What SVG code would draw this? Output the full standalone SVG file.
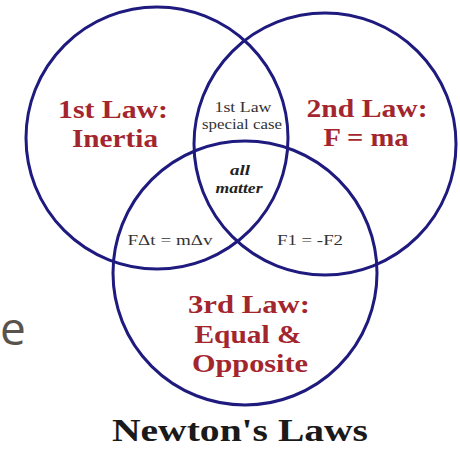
<svg xmlns="http://www.w3.org/2000/svg" width="460" height="451" viewBox="0 0 460 451">
<style>
.c{fill:none;stroke:#1f1a7e;stroke-width:3}
.law{font-family:"Liberation Serif",serif;font-weight:bold;fill:#a3262e;text-anchor:middle;font-size:26px}
.sm{font-family:"Liberation Serif",serif;fill:#333;text-anchor:middle;font-size:15px}
.am{font-family:"Liberation Serif",serif;font-weight:bold;font-style:italic;fill:#222;text-anchor:middle;font-size:15px}
</style>
<rect width="460" height="451" fill="#fff"/>
<text x="0" y="345" font-family="'Open Sans',sans-serif" font-size="46" fill="#5a534d">e</text>
<g id="connectors"></g>
<g id="law1">
<circle class="c" cx="157" cy="138" r="131"/>
<text class="law" x="113" y="118" textLength="110" lengthAdjust="spacingAndGlyphs">1st Law:</text>
<text class="law" x="115" y="147" textLength="86" lengthAdjust="spacingAndGlyphs">Inertia</text>
</g>
<g id="law2">
<circle class="c" cx="325" cy="144" r="131"/>
<text class="law" x="367" y="117" textLength="121" lengthAdjust="spacingAndGlyphs">2nd Law:</text>
<text class="law" x="366" y="146" textLength="85" lengthAdjust="spacingAndGlyphs">F = ma</text>
</g>
<g id="law3">
<circle class="c" cx="245" cy="273" r="132"/>
<text class="law" x="249" y="313" textLength="122" lengthAdjust="spacingAndGlyphs">3rd Law:</text>
<text class="law" x="248" y="343" textLength="107" lengthAdjust="spacingAndGlyphs">Equal &amp;</text>
<text class="law" x="250" y="372" textLength="116" lengthAdjust="spacingAndGlyphs">Opposite</text>
</g>
<g id="special">
<text class="sm" x="243" y="112" textLength="57" lengthAdjust="spacingAndGlyphs">1st Law</text>
<text class="sm" x="242" y="129" textLength="80" lengthAdjust="spacingAndGlyphs">special case</text>
</g>
<g id="all">
<text class="am" x="240" y="175" textLength="20" lengthAdjust="spacingAndGlyphs">all</text>
<text class="am" x="239" y="193" textLength="47" lengthAdjust="spacingAndGlyphs">matter</text>
</g>
<g id="momentum">
<text class="sm" x="170" y="245" textLength="85" lengthAdjust="spacingAndGlyphs">FΔt = mΔv</text>
</g>
<g id="pair">
<text class="sm" x="310" y="245" textLength="66" lengthAdjust="spacingAndGlyphs">F1 = -F2</text>
</g>
<g id="title">
<text x="240" y="441" font-family="'Liberation Serif',serif" font-weight="bold" font-size="32" fill="#1a1a1a" text-anchor="middle" textLength="256" lengthAdjust="spacingAndGlyphs">Newton's Laws</text>
</g>
</svg>
